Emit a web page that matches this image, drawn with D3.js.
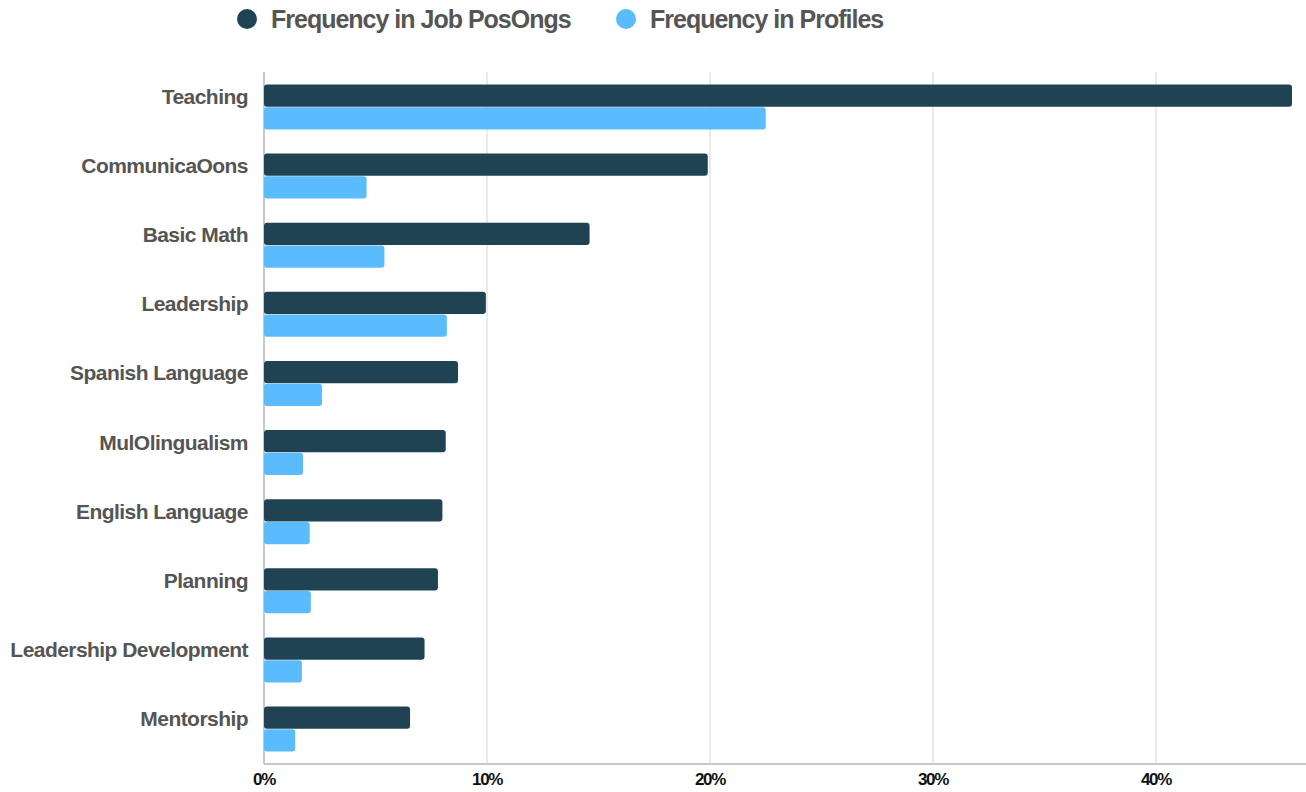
<!DOCTYPE html>
<html lang="en">
<head>
  <meta charset="UTF-8">
  <title>Skills frequency</title>
  <script src="https://d3js.org/d3.v7.min.js"></script>
  <style>
    body { margin: 0; background: white; font-family: "Liberation Sans", Arial, sans-serif; }
    .cat-label { font-size: 21px; font-weight: bold; fill: #555; letter-spacing: -0.55px; }
    .tick-label { font-size: 17px; font-weight: bold; fill: #111; letter-spacing: -1.4px; }
    .legend-text { font-size: 25px; font-weight: bold; fill: #555; letter-spacing: -1px; }
  </style>
</head>
<body>
  <svg width="1306" height="792"></svg>
  <script>
    const categories = ["Teaching", "CommunicaOons", "Basic Math", "Leadership", "Spanish Language",
      "MulOlingualism", "English Language", "Planning", "Leadership Development", "Mentorship"];
    const jobPostings = [46.1, 19.9, 14.6, 9.95, 8.7, 8.15, 8.0, 7.8, 7.2, 6.55];
    const profiles = [22.5, 4.6, 5.4, 8.2, 2.6, 1.75, 2.05, 2.1, 1.7, 1.4];
    const seriesNames = ["Frequency in Job PosOngs", "Frequency in Profiles"];
    const colors = ["#204354", "#5bbcfd"];
    const ticks = [0, 10, 20, 30, 40];

    const svg = d3.select("svg");
    const plotLeft = 264, plotRight = 1292, plotTop = 72, plotBottom = 764;

    const x = d3.scaleLinear().domain([0, 46.1]).range([plotLeft, plotRight]);
    const y = d3.scaleBand().domain(categories).range([plotTop, plotBottom]).paddingInner(0.35).paddingOuter(0.18);
    const sub = d3.scaleBand().domain([0, 1]).range([0, y.bandwidth()]).paddingInner(0.02);

    // gridlines
    svg.append("g").selectAll("line").data(ticks.slice(1)).enter().append("line")
      .attr("x1", d => x(d)).attr("x2", d => x(d))
      .attr("y1", plotTop).attr("y2", plotBottom)
      .attr("stroke", "#dcdcdc").attr("stroke-width", 1.2);

    // axis lines
    svg.append("line").attr("x1", plotLeft).attr("x2", plotRight + 14).attr("y1", plotBottom).attr("y2", plotBottom)
      .attr("stroke", "#c8c8c8").attr("stroke-width", 2);
    svg.append("line").attr("x1", plotLeft).attr("x2", plotLeft).attr("y1", plotTop).attr("y2", plotBottom)
      .attr("stroke", "#c8c8c8").attr("stroke-width", 2);

    // tick labels
    svg.append("g").selectAll("text").data(ticks).enter().append("text")
      .attr("class", "tick-label")
      .attr("x", d => x(d)).attr("y", plotBottom + 21)
      .attr("text-anchor", "middle")
      .text(d => d + "%");

    const rows = categories.map((c, i) => ({ c, vals: [jobPostings[i], profiles[i]] }));

    const grp = svg.append("g").selectAll("g").data(rows).enter().append("g")
      .attr("transform", d => `translate(0,${y(d.c)})`);

    grp.selectAll("rect").data(d => d.vals).enter().append("rect")
      .attr("x", plotLeft)
      .attr("y", (d, i) => sub(i))
      .attr("width", d => x(d) - plotLeft)
      .attr("height", sub.bandwidth())
      .attr("rx", 3)
      .attr("fill", (d, i) => colors[i]);

    grp.append("text")
      .attr("class", "cat-label")
      .attr("x", plotLeft - 16)
      .attr("y", sub(0) + sub.bandwidth() / 2 + 1)
      .attr("dy", "0.35em")
      .attr("text-anchor", "end")
      .text(d => d.c);

    // legend
    const legendX = [247, 626];
    const leg = svg.append("g").selectAll("g").data(seriesNames).enter().append("g")
      .attr("transform", (d, i) => `translate(${legendX[i]},19)`);
    leg.append("circle").attr("r", 10).attr("fill", (d, i) => colors[i]);
    leg.append("text").attr("class", "legend-text").attr("x", 24).attr("dy", "0.36em").text(d => d);
  </script>
</body>
</html>
